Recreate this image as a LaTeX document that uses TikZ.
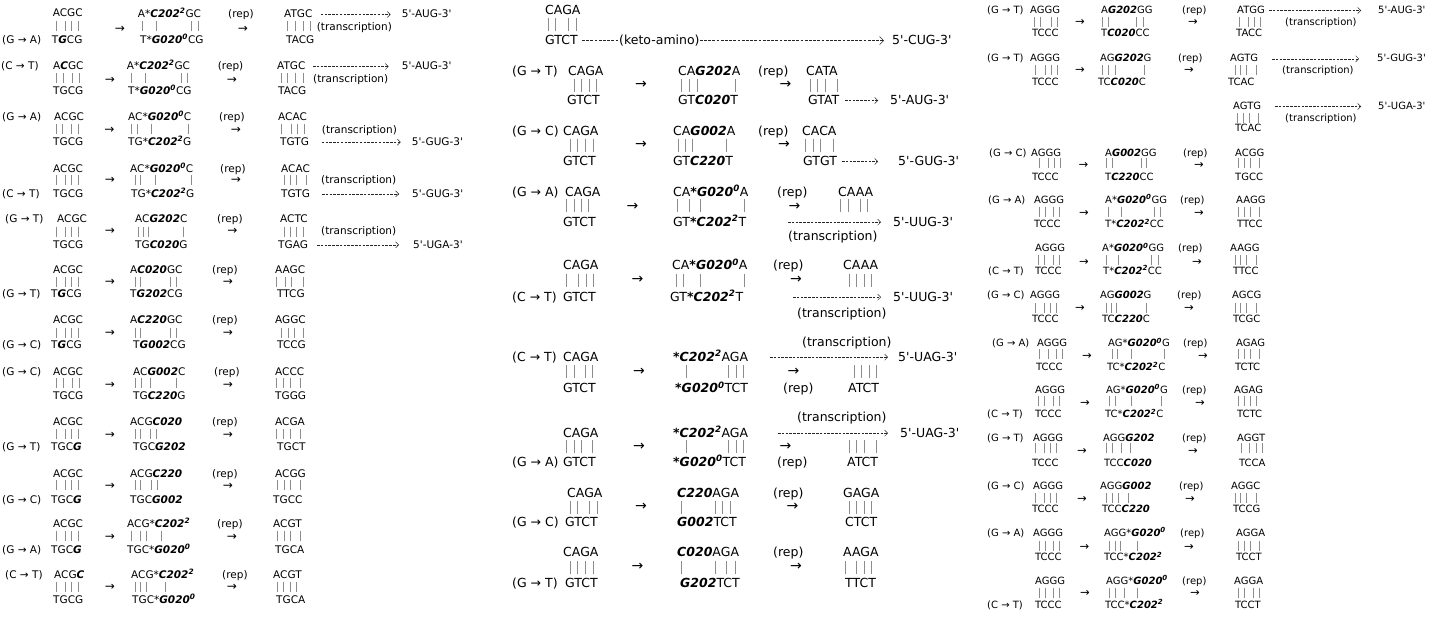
\documentclass[tikz,border=0pt]{standalone}
\usepackage{fontspec}
\setmainfont{DejaVu Sans}
\usetikzlibrary{arrows.meta}

\newcommand{\bi}[1]{\textbf{\textit{#1}}}
\newcommand{\sups}[1]{\textsuperscript{#1}}
\newcommand{\q}{\textquotesingle}
\newcommand{\rungs}[3][10]{\foreach \x in {#3} \draw[bar] (\x,#2) ++(0,-#1/2) -- ++(0,#1);}

\begin{document}
\begin{tikzpicture}[x=1pt, y=-1pt,
  sd/.style={anchor=base west, inner sep=0pt, font=\fontsize{10.5}{12}\selectfont, yshift=-3.8pt},
  rs/.style={anchor=base west, inner sep=0pt, font=\fontsize{10}{12}\selectfont, yshift=-3.6pt},
  md/.style={anchor=base west, inner sep=0pt, font=\fontsize{12.5}{14}\selectfont, yshift=-4.5pt},
  la/.style={inner sep=0pt, font=\fontsize{12}{12}\selectfont},
  ra/.style={inner sep=0pt, font=\fontsize{11.5}{12}\selectfont},
  ma/.style={inner sep=0pt, font=\fontsize{14}{14}\selectfont},
  bar/.style={draw=black!45, line width=0.8pt},
  dasharr/.style={draw=black!85, line width=0.5pt, dash pattern=on 2.5pt off 1.3pt, -{Straight Barb[length=3pt,width=6pt]}},
  ketoarr/.style={draw=black!85, line width=0.5pt, dash pattern=on 2.8pt off 1.4pt}]
\useasboundingbox (0,0) rectangle (1434,616);

% left column
\node[sd] (l1x) at (2,40) {(G → A)};
\node[sd] (l1t) at (52.7,13) {ACGC};
\rungs{26}{56,65,71.7,78.3}
\node[sd] (l1b) at (51.7,40) {T\bi{G}CG};
\node[la] (l1a) at (120,29) {→};
\node[sd] (l1mt) at (137.7,14) {A*\bi{C202\sups{2}}GC};
\rungs{26}{142.7,156,191.7,198.3}
\node[sd] (l1mb) at (140,40) {T*\bi{G020\sups{0}}CG};
\node[sd] (l1rep) at (228,14) {(rep)};
\node[la] (l1ra) at (243,29) {→};
\node[sd] (l1rt) at (284,14) {ATGC};
\rungs{26}{287.3,295,303.3,310.7}
\node[sd] (l1rb) at (286,40) {TACG};
\node[sd] (l1tr) at (316.7,27) {(transcription)};
\node[sd] (l1p) at (401.7,14) {5\q-AUG-3\q};
\coordinate (l1s) at (320.7,14.5);
\draw[dasharr, shorten >=11pt] (l1s) -- (l1s -| l1p.west);

\node[sd] (l2x) at (1,66) {(C → T)};
\node[sd] (l2t) at (53,66) {A\bi{C}GC};
\rungs{78}{56.7,63.3,72.7,79.3}
\node[sd] (l2b) at (53,90.7) {TGCG};
\node[la] (l2a) at (110,80) {→};
\node[sd] (l2mt) at (126.7,66) {A*\bi{C202\sups{2}}GC};
\rungs{78}{131,145.7,181.7,187.7}
\node[sd] (l2mb) at (128,90.7) {T*\bi{G020\sups{0}}CG};
\node[sd] (l2rep) at (217.7,66) {(rep)};
\node[la] (l2ra) at (232,80) {→};
\node[sd] (l2rt) at (277,66) {ATGC};
\rungs{78}{281,287.3,295,303.3}
\node[sd] (l2rb) at (278,90.7) {TACG};
\node[sd] (l2tr) at (313,79) {(transcription)};
\node[sd] (l2p) at (401.7,66) {5\q-AUG-3\q};
\coordinate (l2s) at (313,66.5);
\draw[dasharr, shorten >=13pt] (l2s) -- (l2s -| l2p.west);

\node[sd] (l3x) at (2,117) {(G → A)};
\node[sd] (l3t) at (54,117) {ACGC};
\rungs{129}{56.7,62.7,71.7,78.3}
\node[sd] (l3b) at (53,141.7) {TGCG};
\node[la] (l3a) at (109.5,130) {→};
\node[sd] (l3mt) at (128,117) {AC*\bi{G020\sups{0}}C};
\rungs{129}{131.7,137.3,151.7,188.3}
\node[sd] (l3mb) at (128,141.7) {TG*\bi{C202\sups{2}}G};
\node[sd] (l3rep) at (219,117) {(rep)};
\node[la] (l3ra) at (236,130) {→};
\node[sd] (l3rt) at (278,117) {ACAC};
\rungs{129}{281,291.7,297.7,304}
\node[sd] (l3rb) at (280,141.7) {TGTG};
\node[sd] (l3tr) at (321.7,130) {(transcription)};
\node[sd] (l3p) at (411.7,141.7) {5\q-GUG-3\q};
\coordinate (l3s) at (321.7,142.2);
\draw[dasharr, shorten >=11pt] (l3s) -- (l3s -| l3p.west);

\node[sd] (l4x) at (2,193.3) {(C → T)};
\node[sd] (l4t) at (53,168.3) {ACGC};
\rungs{180}{56,65,71.7,78.3}
\node[sd] (l4b) at (53,193.3) {TGCG};
\node[la] (l4a) at (110,180) {→};
\node[sd] (l4mt) at (130,168.3) {AC*\bi{G020\sups{0}}C};
\rungs{180}{135,140,155,191}
\node[sd] (l4mb) at (131,193.3) {TG*\bi{C202\sups{2}}G};
\node[sd] (l4rep) at (220,168.3) {(rep)};
\node[la] (l4ra) at (236,180) {→};
\node[sd] (l4rt) at (281,168.3) {ACAC};
\rungs{180}{284.3,290,296.7,306}
\node[sd] (l4rb) at (281,193.3) {TGTG};
\node[sd] (l4tr) at (321,180) {(transcription)};
\node[sd] (l4p) at (412,193.3) {5\q-GUG-3\q};
\coordinate (l4s) at (322,193.8);
\draw[dasharr, shorten >=13pt] (l4s) -- (l4s -| l4p.west);

\node[sd] (l5x) at (5,218.3) {(G → T)};
\node[sd] (l5t) at (57,218.3) {ACGC};
\rungs{231.7}{56,65,71.7,78.3}
\node[sd] (l5b) at (53,244.3) {TGCG};
\node[la] (l5a) at (110,231.7) {→};
\node[sd] (l5mt) at (135,218.3) {AC\bi{G202}C};
\rungs{231.7}{138.3,143.3,148.3,183.3}
\node[sd] (l5mb) at (135,244.3) {TG\bi{C020}G};
\node[sd] (l5rep) at (217,218.3) {(rep)};
\node[la] (l5ra) at (232.5,231.7) {→};
\node[sd] (l5rt) at (280,218.3) {ACTC};
\rungs{231.7}{284.3,290,296.7,303.3}
\node[sd] (l5rb) at (278,244.3) {TGAG};
\node[sd] (l5tr) at (321,231) {(transcription)};
\node[sd] (l5p) at (413,244.3) {5\q-UGA-3\q};
\coordinate (l5s) at (317,244.8);
\draw[dasharr, shorten >=14pt] (l5s) -- (l5s -| l5p.west);

\node[sd] (l6x) at (2,293.3) {(G → T)};
\node[sd] (l6t) at (53,270) {ACGC};
\rungs{281.7}{56,65,71.7,78.3}
\node[sd] (l6b) at (51,293.3) {T\bi{G}CG};
\node[la] (l6a) at (110,282) {→};
\node[sd] (l6mt) at (130,270) {A\bi{C020}GC};
\rungs{281.7}{135,140,170,176}
\node[sd] (l6mb) at (130,293.3) {T\bi{G202}CG};
\node[sd] (l6rep) at (212,270) {(rep)};
\node[la] (l6ra) at (228,282) {→};
\node[sd] (l6rt) at (275,270) {AAGC};
\rungs{281.7}{276.7,285,291.7,303.3}
\node[sd] (l6rb) at (277,293.3) {TTCG};

\node[sd] (l7x) at (2,345) {(G → C)};
\node[sd] (l7t) at (53,320) {ACGC};
\rungs{332.7}{56,65,71.7,78.3}
\node[sd] (l7b) at (51,345) {T\bi{G}CG};
\node[la] (l7a) at (110,333) {→};
\node[sd] (l7mt) at (130,320) {A\bi{C220}GC};
\rungs{332.7}{135,140,170,176}
\node[sd] (l7mb) at (133,345) {T\bi{G002}CG};
\node[sd] (l7rep) at (212,320) {(rep)};
\node[la] (l7ra) at (228,333) {→};
\node[sd] (l7rt) at (275,320) {AGGC};
\rungs{332.7}{281.7,288.3,294.3,303.3}
\node[sd] (l7rb) at (277,345) {TCCG};

\node[sd] (l8x) at (2,371.7) {(G → C)};
\node[sd] (l8t) at (53,371.7) {ACGC};
\rungs{383.3}{56.7,63.3,72.7,79.3}
\node[sd] (l8b) at (53,396) {TGCG};
\node[la] (l8a) at (110,385) {→};
\node[sd] (l8mt) at (133,371.7) {AC\bi{G002}C};
\rungs{383.3}{135,141.7,150,176}
\node[sd] (l8mb) at (133,396) {TG\bi{C220}G};
\node[sd] (l8rep) at (214,371.7) {(rep)};
\node[la] (l8ra) at (228,385) {→};
\node[sd] (l8rt) at (275,371.7) {ACCC};
\rungs{383.3}{276.7,283.3,290,300}
\node[sd] (l8rb) at (275,396) {TGGG};

\node[sd] (l9x) at (2,446.7) {(G → T)};
\node[sd] (l9t) at (53,421.7) {ACGC};
\rungs{434}{56,65,71.7,78.3}
\node[sd] (l9b) at (51,446.7) {TGC\bi{G}};
\node[la] (l9a) at (110,435) {→};
\node[sd] (l9mt) at (130,421.7) {ACG\bi{C020}};
\rungs{434}{135,140,150,156.7}
\node[sd] (l9mb) at (133,446.7) {TGC\bi{G202}};
\node[sd] (l9rep) at (212,421.7) {(rep)};
\node[la] (l9ra) at (228,435) {→};
\node[sd] (l9rt) at (275,421.7) {ACGA};
\rungs{434}{276.7,283.3,290,300}
\node[sd] (l9rb) at (277,446.7) {TGCT};

\node[sd] (l10x) at (2,499.3) {(G → C)};
\node[sd] (l10t) at (53,473.3) {ACGC};
\rungs{485}{56,65,71.7,78.3}
\node[sd] (l10b) at (51,499.3) {TGC\bi{G}};
\node[la] (l10a) at (110,486) {→};
\node[sd] (l10mt) at (130,473.3) {ACG\bi{C220}};
\rungs{485}{135,140,151.7,157.3}
\node[sd] (l10mb) at (130,499.3) {TGC\bi{G002}};
\node[sd] (l10rep) at (212,473.3) {(rep)};
\node[la] (l10ra) at (228,486) {→};
\node[sd] (l10rt) at (275,473.3) {ACGG};
\rungs{485}{277.7,284,290,300}
\node[sd] (l10rb) at (273,499.3) {TGCC};

\node[sd] (l11x) at (2,549.3) {(G → A)};
\node[sd] (l11t) at (53,523.3) {ACGC};
\rungs{536}{56,65,71.7,78.3}
\node[sd] (l11b) at (51,549.3) {TGC\bi{G}};
\node[la] (l11a) at (110,537) {→};
\node[sd] (l11mt) at (127,523.3) {ACG*\bi{C202\sups{2}}};
\rungs{536}{131.7,140,146.7,161.7}
\node[sd] (l11mb) at (127,549.3) {TGC*\bi{G020\sups{0}}};
\node[sd] (l11rep) at (217,523.3) {(rep)};
\node[la] (l11ra) at (232,537) {→};
\node[sd] (l11rt) at (273,523.3) {ACGT};
\rungs{536}{277.7,284,290,300}
\node[sd] (l11rb) at (275,549.3) {TGCA};

\node[sd] (l12x) at (5,575) {(C → T)};
\node[sd] (l12t) at (54,575) {ACG\bi{C}};
\rungs{586.7}{56,65,71.7,78.3}
\node[sd] (l12b) at (53,600) {TGCG};
\node[la] (l12a) at (110,587) {→};
\node[sd] (l12mt) at (131,575) {ACG*\bi{C202\sups{2}}};
\rungs{586.7}{135,140,146.7,165.7}
\node[sd] (l12mb) at (132,600) {TGC*\bi{G020\sups{0}}};
\node[sd] (l12rep) at (222,575) {(rep)};
\node[la] (l12ra) at (232,587) {→};
\node[sd] (l12rt) at (273,575) {ACGT};
\rungs{586.7}{277.7,283.3,290,296}
\node[sd] (l12rb) at (276,600) {TGCA};

% middle column
\node[md] (m0t) at (545,10) {CAGA};
\rungs[13]{24}{548.3,555,568.3,576}
\node[md] (m0b) at (545,40) {GTCT};
\node[md] (m0k) at (619,40) {(keto-amino)};
\node[md] (m0p) at (892,40) {5\q-CUG-3\q};
\draw[ketoarr, shorten <=4pt] (m0b.east) -- (m0b.east -| m0k.west);
\draw[ketoarr, -{Straight Barb[length=4pt,width=8pt]}, shorten >=8pt] (m0k.east) -- (m0k.east -| m0p.west);

\node[md] (m1x) at (512,70.7) {(G → T)};
\node[md] (m1t) at (568,70.7) {CAGA};
\rungs[13]{85}{574,581.7,589.3,596.7}
\node[md] (m1b) at (567,100) {GTCT};
\node[ma] (m1a) at (641,85) {→};
\node[md] (m1mt) at (678,70.7) {CA\bi{G202}A};
\rungs[13]{85}{681.7,689.3,697.3,735}
\node[md] (m1mb) at (678,100) {GT\bi{C020}T};
\node[md] (m1rep) at (758,70.7) {(rep)};
\node[ma] (m1ra) at (785.5,85) {→};
\node[md] (m1rt) at (806,70.7) {CATA};
\rungs[13]{85}{810,817.7,825,837.3}
\node[md] (m1rb) at (808,100) {GTAT};
\node[md] (m1p) at (890,100) {5\q-AUG-3\q};
\coordinate (m1s) at (845,100.5);
\draw[dasharr, shorten >=12pt] (m1s) -- (m1s -| m1p.west);

\node[md] (m2x) at (512,130.7) {(G → C)};
\node[md] (m2t) at (563,130.7) {CAGA};
\rungs[13]{145}{570,577.3,585,593.3}
\node[md] (m2b) at (563,161) {GTCT};
\node[ma] (m2a) at (641,145) {→};
\node[md] (m2mt) at (673,130.7) {CA\bi{G002}A};
\rungs[13]{145}{678.3,685,692.7,726}
\node[md] (m2mb) at (673,161) {GT\bi{C220}T};
\node[md] (m2rep) at (758,130.7) {(rep)};
\node[ma] (m2ra) at (784,145) {→};
\node[md] (m2rt) at (802,130.7) {CACA};
\rungs[13]{145}{805,813.3,820,833.3}
\node[md] (m2rb) at (803,161) {GTGT};
\node[md] (m2p) at (898,161) {5\q-GUG-3\q};
\coordinate (m2s) at (842,161.5);
\draw[dasharr, shorten >=20pt] (m2s) -- (m2s -| m2p.west);

\node[md] (m3x) at (512,191.7) {(G → A)};
\node[md] (m3t) at (565,191.7) {CAGA};
\rungs[13]{205}{566.7,574,581.7,588.3}
\node[md] (m3b) at (563,221.7) {GTCT};
\node[ma] (m3a) at (632.5,207) {→};
\node[md] (m3mt) at (673,191.7) {CA\bi{*G020\sups{0}}A};
\rungs[13]{205}{677.3,689,700.7,744}
\node[md] (m3mb) at (673,221.7) {GT\bi{*C202\sups{2}}T};
\node[md] (m3rep) at (777,191.7) {(rep)};
\node[ma] (m3ra) at (794.5,207) {→};
\node[md] (m3rt) at (838,191.7) {CAAA};
\rungs[13]{205}{840.7,848.3,860,867.7}
\node[md] (m3p) at (893,221.7) {5\q-UUG-3\q};
\node[md] (m3tr) at (788,236) {(transcription)};
\coordinate (m3s) at (788,222.2);
\draw[dasharr, shorten >=12pt] (m3s) -- (m3s -| m3p.west);

\node[md] (m4t) at (563,265) {CAGA};
\rungs[13]{280}{566.7,578.3,586,593.3}
\node[md] (m4x) at (512,296.7) {(C → T)};
\node[md] (m4b) at (563,296.7) {GTCT};
\node[ma] (m4a) at (637.5,280) {→};
\node[md] (m4mt) at (672,265) {CA\bi{*G020\sups{0}}A};
\rungs[13]{280}{676.7,683.3,700.7,744}
\node[md] (m4mb) at (670,296.7) {GT\bi{*C202\sups{2}}T};
\node[md] (m4rep) at (773,265) {(rep)};
\node[ma] (m4ra) at (796,280) {→};
\node[md] (m4rt) at (843,265) {CAAA};
\rungs[13]{280}{849.3,856.7,864.3,871.7}
\node[md] (m4p) at (893,296.7) {5\q-UUG-3\q};
\node[md] (m4tr) at (797,313) {(transcription)};
\coordinate (m4s) at (793,297.2);
\draw[dasharr, shorten >=12pt] (m4s) -- (m4s -| m4p.west);

\node[md] (m5tr) at (802,341.7) {(transcription)};
\node[md] (m5x) at (512,356.7) {(C → T)};
\node[md] (m5t) at (563,356.7) {CAGA};
\rungs[13]{371.7}{566.7,574,585,592.7}
\node[md] (m5b) at (563,388.3) {GTCT};
\node[ma] (m5a) at (639,372) {→};
\node[md] (m5mt) at (673,356.7) {\bi{*C202\sups{2}}AGA};
\rungs[13]{371.7}{686,728.3,736,743.3}
\node[md] (m5mb) at (675,388.3) {\bi{*G020\sups{0}}TCT};
\node[md] (m5p) at (898,356.7) {5\q-UAG-3\q};
\coordinate (m5s) at (770,357.2);
\draw[dasharr, shorten >=10pt] (m5s) -- (m5s -| m5p.west);
\node[ma] (m5ra) at (793.5,372) {→};
\node[md] (m5rep) at (783,388.3) {(rep)};
\rungs[13]{371.7}{854,861.7,869.3,876.7}
\node[md] (m5rb) at (848,388.3) {ATCT};

\node[md] (m6tr) at (797,417.3) {(transcription)};
\node[md] (m6t) at (563,432.7) {CAGA};
\rungs[13]{446.7}{566.7,574,581.7,592.7}
\node[md] (m6x) at (512,461.7) {(G → A)};
\node[md] (m6b) at (563,461.7) {GTCT};
\node[ma] (m6a) at (639,447) {→};
\node[md] (m6mt) at (673,432.7) {\bi{*C202\sups{2}}AGA};
\rungs[13]{446.7}{686,728.3,736,743.3}
\node[md] (m6mb) at (673,461.7) {\bi{*G020\sups{0}}TCT};
\node[md] (m6p) at (900,432.7) {5\q-UAG-3\q};
\coordinate (m6s) at (778,433.2);
\draw[dasharr, shorten >=12pt] (m6s) -- (m6s -| m6p.west);
\node[ma] (m6ra) at (785.5,447) {→};
\node[md] (m6rep) at (777,461.7) {(rep)};
\rungs[13]{446.7}{849.3,856.7,864.3,876.7}
\node[md] (m6rb) at (847,461.7) {ATCT};

\node[md] (m7t) at (567,492.7) {CAGA};
\rungs[13]{507.3}{570,577.3,589.3,597.3}
\node[md] (m7x) at (512,522.3) {(G → C)};
\node[md] (m7b) at (565,522.3) {GTCT};
\node[ma] (m7a) at (641,507) {→};
\node[md] (m7mt) at (677,492.7) {\bi{C220}AGA};
\rungs[13]{507.3}{681.7,715,722.7,730}
\node[md] (m7mb) at (677,522.3) {\bi{G002}TCT};
\node[md] (m7rep) at (773,492.7) {(rep)};
\node[ma] (m7ra) at (792.5,507) {→};
\node[md] (m7rt) at (843,492.7) {GAGA};
\rungs[13]{507.3}{849.3,856.7,864.3,871.7}
\node[md] (m7rb) at (845,522.3) {CTCT};

\node[md] (m8t) at (563,551.7) {CAGA};
\rungs[13]{567.3}{570,577.3,585,593.3}
\node[md] (m8x) at (512,583.3) {(G → T)};
\node[md] (m8b) at (565,583.3) {GTCT};
\node[ma] (m8a) at (637.5,567) {→};
\node[md] (m8mt) at (677,551.7) {\bi{C020}AGA};
\rungs[13]{567.3}{681.7,715,726.7,735}
\node[md] (m8mb) at (680,583.3) {\bi{G202}TCT};
\node[md] (m8rep) at (773,551.7) {(rep)};
\node[ma] (m8ra) at (796,567) {→};
\node[md] (m8rt) at (843,551.7) {AAGA};
\rungs[13]{567.3}{845,856.7,864.3,871.7}
\node[md] (m8rb) at (845,583.3) {TTCT};

% right column
\node[rs] (r1x) at (987,10) {(G → T)};
\node[rs] (r1t) at (1030,10) {AGGG};
\rungs{22.3}{1034.3,1040,1051.7,1057.7}
\node[rs] (r1b) at (1032,33.3) {TCCC};
\node[ra] (r1a) at (1080,22) {→};
\node[rs] (r1mt) at (1101,10) {A\bi{G202}GG};
\rungs{22.3}{1102.7,1108.3,1136.7,1143.3}
\node[rs] (r1mb) at (1101,33.3) {T\bi{C020}CC};
\node[rs] (r1rep) at (1182,10) {(rep)};
\node[ra] (r1ra) at (1193,22) {→};
\node[rs] (r1rt) at (1237,10) {ATGG};
\rungs{22.3}{1239,1248.3,1254,1260}
\node[rs] (r1rb) at (1236,33.3) {TACC};
\node[rs] (r1tr) at (1285,22) {(transcription)};
\node[rs] (r1p) at (1378,10) {5\q-AUG-3\q};
\coordinate (r1s) at (1269,10.5);
\draw[dasharr, shorten >=17pt] (r1s) -- (r1s -| r1p.west);

\node[rs] (r2x) at (987,58.3) {(G → T)};
\node[rs] (r2t) at (1030,58.3) {AGGG};
\rungs{70}{1035,1045,1051,1057.3}
\node[rs] (r2b) at (1032,81.7) {TCCC};
\node[ra] (r2a) at (1080,70) {→};
\node[rs] (r2mt) at (1100,58.3) {AG\bi{G202}G};
\rungs{70}{1102.7,1108.3,1115,1144}
\node[rs] (r2mb) at (1098,81.7) {TC\bi{C020}C};
\node[rs] (r2rep) at (1178,58.3) {(rep)};
\node[ra] (r2ra) at (1189,70) {→};
\node[rs] (r2rt) at (1230,58.3) {AGTG};
\rungs{70}{1235,1240.7,1246.7,1256.7}
\node[rs] (r2rb) at (1228,81.7) {TCAC};
\node[rs] (r2tr) at (1282,70) {(transcription)};
\node[rs] (r2p) at (1377,58.3) {5\q-GUG-3\q};
\coordinate (r2s) at (1272,58.8);
\draw[dasharr, shorten >=18pt] (r2s) -- (r2s -| r2p.west);

\node[rs] (r3rt) at (1233,106) {AGTG};
\rungs{118}{1237.3,1243.3,1249.3,1258.3}
\node[rs] (r3rb) at (1235,128.3) {TCAC};
\node[rs] (r3tr) at (1285,118) {(transcription)};
\node[rs] (r3p) at (1378,106) {5\q-UGA-3\q};
\coordinate (r3s) at (1275,106.5);
\draw[dasharr, shorten >=17pt] (r3s) -- (r3s -| r3p.west);

\node[rs] (r4x) at (989,152.7) {(G → C)};
\node[rs] (r4t) at (1031,152.7) {AGGG};
\rungs{163.3}{1039.3,1048.3,1054,1060}
\node[rs] (r4b) at (1032,176.7) {TCCC};
\node[ra] (r4a) at (1083.5,165) {→};
\node[rs] (r4mt) at (1105,152.7) {A\bi{G002}GG};
\rungs{163.3}{1106,1112.7,1141.7,1146.7}
\node[rs] (r4mb) at (1105,176.7) {T\bi{C220}CC};
\node[rs] (r4rep) at (1183,152.7) {(rep)};
\node[ra] (r4ra) at (1199,165) {→};
\node[rs] (r4rt) at (1235,152.7) {ACGG};
\rungs{163.3}{1238.3,1244.3,1250,1259.3}
\node[rs] (r4rb) at (1235,176.7) {TGCC};

\node[rs] (r5x) at (988,200) {(G → A)};
\node[rs] (r5t) at (1034,200) {AGGG};
\rungs{211.7}{1039.3,1045,1053.3,1059.3}
\node[rs] (r5b) at (1034,224.3) {TCCC};
\node[ra] (r5a) at (1084,213) {→};
\node[rs] (r5mt) at (1105,200) {A*\bi{G020\sups{0}}GG};
\rungs{211.7}{1108.3,1121.7,1154.3,1160.7}
\node[rs] (r5mb) at (1105,224.3) {T*\bi{C202\sups{2}}CC};
\node[rs] (r5rep) at (1180,200) {(rep)};
\node[ra] (r5ra) at (1199,213) {→};
\node[rs] (r5rt) at (1236,200) {AAGG};
\rungs{211.7}{1238.3,1244.3,1250,1259.3}
\node[rs] (r5rb) at (1237,224.3) {TTCC};

\node[rs] (r6t) at (1035,248.3) {AGGG};
\rungs{260}{1038.3,1044,1053.3,1059.3}
\node[rs] (r6x) at (988,271) {(C → T)};
\node[rs] (r6b) at (1035,271) {TCCC};
\node[ra] (r6a) at (1084,262) {→};
\node[rs] (r6mt) at (1102,248.3) {A*\bi{G020\sups{0}}GG};
\rungs{260}{1106,1118.3,1151.7,1158.3}
\node[rs] (r6mb) at (1103,271) {T*\bi{C202\sups{2}}CC};
\node[rs] (r6rep) at (1178,248.3) {(rep)};
\node[ra] (r6ra) at (1197,262) {→};
\node[rs] (r6rt) at (1230,248.3) {AAGG};
\rungs{260}{1235,1240.7,1246.7,1256}
\node[rs] (r6rb) at (1233,271) {TTCC};

\node[rs] (r7x) at (987,295) {(G → C)};
\node[rs] (r7t) at (1030,295) {AGGG};
\rungs{307.7}{1035,1044,1050,1056}
\node[rs] (r7b) at (1032,319.3) {TCCC};
\node[ra] (r7a) at (1080,308) {→};
\node[rs] (r7mt) at (1100,295) {AG\bi{G002}G};
\rungs{307.7}{1106,1111.7,1116.7,1146.7}
\node[rs] (r7mb) at (1102,319.3) {TC\bi{C220}C};
\node[rs] (r7rep) at (1177,295) {(rep)};
\node[ra] (r7ra) at (1189,308) {→};
\node[rs] (r7rt) at (1232,295) {AGCG};
\rungs{307.7}{1235,1240.7,1246.7,1256}
\node[rs] (r7rb) at (1233,319.3) {TCGC};

\node[rs] (r8x) at (992,343.3) {(G → A)};
\node[rs] (r8t) at (1037,343.3) {AGGG};
\rungs{354}{1039.3,1048.3,1056.7,1062.7}
\node[rs] (r8b) at (1036,367.3) {TCCC};
\node[ra] (r8a) at (1087,356) {→};
\node[rs] (r8mt) at (1108,343.3) {AG*\bi{G020\sups{0}}G};
\rungs{354}{1112.7,1117.7,1131.7,1164.3}
\node[rs] (r8mb) at (1107,367.3) {TC*\bi{C202\sups{2}}C};
\node[rs] (r8rep) at (1183,343.3) {(rep)};
\node[ra] (r8ra) at (1203,356) {→};
\node[rs] (r8rt) at (1236,343.3) {AGAG};
\rungs{354}{1238.3,1244.3,1250,1259.3}
\node[rs] (r8rb) at (1235,367.3) {TCTC};

\node[rs] (r9t) at (1035,390) {AGGG};
\rungs{400.7}{1038.3,1044,1053.3,1059.3}
\node[rs] (r9x) at (987,414.3) {(C → T)};
\node[rs] (r9b) at (1035,414.3) {TCCC};
\node[ra] (r9a) at (1085,403) {→};
\node[rs] (r9mt) at (1106,390) {AG*\bi{G020\sups{0}}G};
\rungs{400.7}{1109.3,1115,1131.7,1161.7}
\node[rs] (r9mb) at (1105,414.3) {TC*\bi{C202\sups{2}}C};
\node[rs] (r9rep) at (1182,390) {(rep)};
\node[ra] (r9ra) at (1200,403) {→};
\node[rs] (r9rt) at (1234,390) {AGAG};
\rungs{400.7}{1238.3,1244.3,1250,1256}
\node[rs] (r9rb) at (1237,414.3) {TCTC};

\node[rs] (r10x) at (987,438.3) {(G → T)};
\node[rs] (r10t) at (1033,438.3) {AGGG};
\rungs{448.3}{1035,1044,1050,1056}
\node[rs] (r10b) at (1032,462.7) {TCCC};
\node[ra] (r10a) at (1082,451) {→};
\node[rs] (r10mt) at (1103,438.3) {AGG\bi{G202}};
\rungs{448.3}{1106,1112.7,1121.7,1130.7}
\node[rs] (r10mb) at (1104,462.7) {TCC\bi{C020}};
\node[rs] (r10rep) at (1182,438.3) {(rep)};
\node[ra] (r10ra) at (1193,451) {→};
\node[rs] (r10rt) at (1237,438.3) {AGGT};
\rungs{448.3}{1241.7,1249.3,1256,1262.7}
\node[rs] (r10rb) at (1239,462.7) {TCCA};

\node[rs] (r11x) at (987,486) {(G → C)};
\node[rs] (r11t) at (1033,486) {AGGG};
\rungs{498.3}{1035,1044,1050,1056}
\node[rs] (r11b) at (1032,509.3) {TCCC};
\node[ra] (r11a) at (1082,499) {→};
\node[rs] (r11mt) at (1100,486) {AGG\bi{G002}};
\rungs{498.3}{1106,1112.7,1118.3,1128.3}
\node[rs] (r11mb) at (1102,509.3) {TCC\bi{C220}};
\node[rs] (r11rep) at (1179,486) {(rep)};
\node[ra] (r11ra) at (1190,499) {→};
\node[rs] (r11rt) at (1231,486) {AGGC};
\rungs{498.3}{1235,1240.7,1246.7,1256}
\node[rs] (r11rb) at (1233,509.3) {TCCG};

\node[rs] (r12x) at (987,532.7) {(G → A)};
\node[rs] (r12t) at (1033,532.7) {AGGG};
\rungs{546}{1039.3,1045,1053.3,1059.3}
\node[rs] (r12b) at (1035,557.3) {TCCC};
\node[ra] (r12a) at (1084.5,547) {→};
\node[rs] (r12mt) at (1104,532.7) {AGG*\bi{G020\sups{0}}};
\rungs{546}{1109.3,1115,1120.7,1137.3}
\node[rs] (r12mb) at (1104,557.3) {TCC*\bi{C202\sups{2}}};
\node[rs] (r12rep) at (1180,532.7) {(rep)};
\node[ra] (r12ra) at (1189,547) {→};
\node[rs] (r12rt) at (1236,532.7) {AGGA};
\rungs{546}{1238.3,1244.3,1250,1259.3}
\node[rs] (r12rb) at (1236,557.3) {TCCT};

\node[rs] (r13t) at (1035,581) {AGGG};
\rungs{592.7}{1039.3,1045,1053.3,1059.3}
\node[rs] (r13x) at (987,605) {(C → T)};
\node[rs] (r13b) at (1035,605) {TCCC};
\node[ra] (r13a) at (1085,593) {→};
\node[rs] (r13mt) at (1106,581) {AGG*\bi{G020\sups{0}}};
\rungs{592.7}{1109.3,1115,1124,1137.3}
\node[rs] (r13mb) at (1105,605) {TCC*\bi{C202\sups{2}}};
\node[rs] (r13rep) at (1182,581) {(rep)};
\node[ra] (r13ra) at (1195,593) {→};
\node[rs] (r13rt) at (1234,581) {AGGA};
\rungs{592.7}{1238.3,1244.3,1253.3,1259.3}
\node[rs] (r13rb) at (1235,605) {TCCT};

\end{tikzpicture}
\end{document}
